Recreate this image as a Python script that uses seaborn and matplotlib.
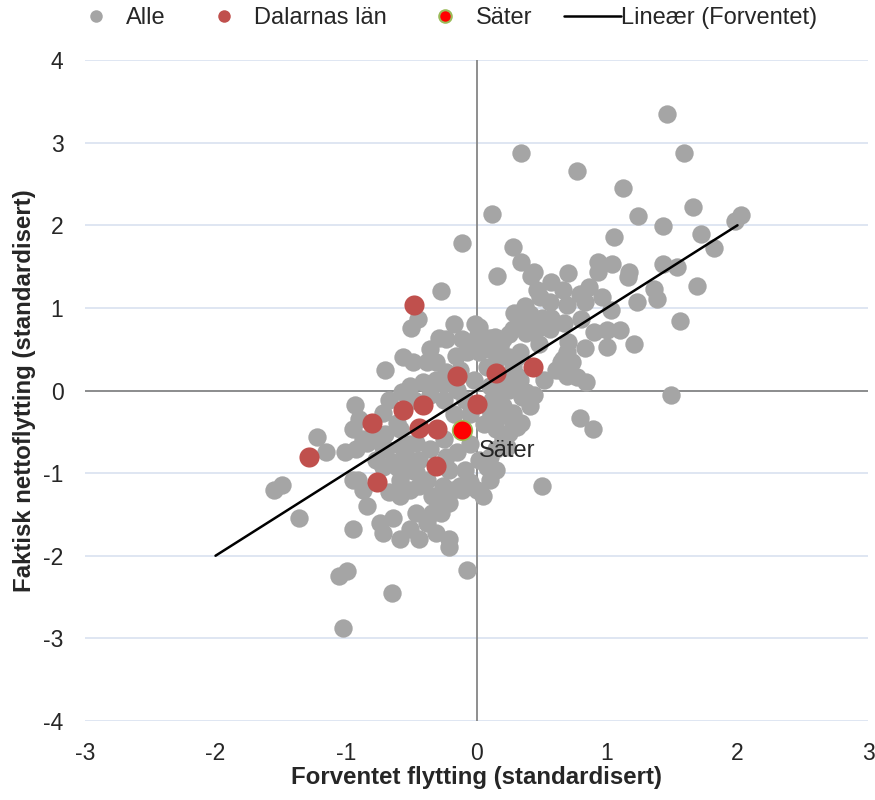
import matplotlib
matplotlib.use("Agg")
import matplotlib.pyplot as plt
import seaborn as sns
import pandas as pd
from matplotlib.lines import Line2D
from matplotlib.legend_handler import HandlerLine2D

# ---- data (standardised values) ----
alle_x = [1.46, 0.34, 1.59, 0.77, 1.12, 1.66, 0.12, 1.24, 2.03, 1.98, 1.43, 1.05, 1.72, 1.82, 0.28, -0.11,
          0.34, 0.44, 0.42, 0.16, 0.70, 0.93, 0.93, 1.04, 1.17, 1.16, 1.43, 1.54, 1.69, 1.36, 1.38, 1.23,
          1.56, 0.57, 0.49, 0.86, 0.79, 0.96, 0.69, 0.83, 1.03, 0.37, 0.29, 0.41, 0.50, 0.57, 0.67, 0.80,
          0.14, 0.25, 0.18, 0.38, 0.46, 0.90, 1.00, 1.10, 0.70, 0.69, 0.83, 1.00, 1.21, 0.02, 0.02, 0.25,
          0.31, 0.65, 0.73, 0.64, 0.69, 0.77, 0.84, 0.19, 0.35, 1.49, 0.10, 0.18, 0.28, 0.34, 0.79, 0.89,
          0.56, 0.46, 0.66, 0.38, -0.27, -0.45, -0.50, -0.29, -0.01, -0.11, 0.00, -0.05, 0.10, 0.20, 0.28,
          0.34, -0.70, -0.56, -0.49, -0.38, -0.31, -0.16, -0.07, 0.02, 0.10, 0.18, 0.33, -0.51, -0.41,
          -0.31, -0.23, -0.57, -0.26, -0.15, 0.08, 0.28, 0.33, 0.38, -0.67, -0.72, -0.61, 0.10, 0.20, 0.31,
          0.41, 0.31, 0.25, 0.10, 0.15, 0.20, 0.61, 0.66, -0.93, -0.95, -0.87, -0.92, -0.95, -0.87, -0.84,
          -0.95, -0.74, -0.64, -0.72, -0.59, -0.51, -0.46, -0.38, -0.34, -0.31, -0.44, -0.21, -0.28, -0.21,
          -0.18, -0.11, 0.00, 0.05, 0.10, 0.15, 0.08, 0.10, 0.15, 0.23, 0.28, 0.20, 0.12, 0.25, 0.50, -0.21,
          -0.72, -0.64, -0.54, -0.59, -0.51, -0.59, -0.46, -0.44, -0.38, -0.34, -1.22, -1.15, -1.01, -0.80,
          -0.84, -1.55, -1.49, -1.36, -0.91, -0.07, -1.05, -0.99, -0.65, -1.02, -0.67, -0.41, -0.26, -0.13,
          -0.05, -0.72, -0.61, -0.51, -0.44, -0.36, -0.23, -0.15, -0.69, -0.57, -0.46, -0.77, -0.27, -0.05,
          0.06, -0.17, -0.25, -0.09, -0.02, -0.13, -0.36, -0.25, -0.05, 0.02, -0.09, -0.21, -0.59, -0.70,
          -0.51, -0.48, -0.90, 0.16, 0.48, 0.56, 0.52, 0.44, -0.17, -0.23, -0.36]
alle_y = [3.35, 2.88, 2.88, 2.66, 2.45, 2.22, 2.14, 2.11, 2.13, 2.05, 1.99, 1.86, 1.90, 1.72, 1.74, 1.79,
          1.55, 1.44, 1.38, 1.38, 1.42, 1.55, 1.43, 1.53, 1.44, 1.37, 1.53, 1.49, 1.26, 1.23, 1.11, 1.07,
          0.84, 1.31, 1.13, 1.25, 1.17, 1.13, 1.04, 1.07, 0.98, 1.02, 0.94, 0.92, 0.88, 0.88, 0.82, 0.86,
          0.65, 0.68, 0.53, 0.70, 0.74, 0.71, 0.73, 0.73, 0.59, 0.47, 0.52, 0.53, 0.56, 0.77, 0.62, 0.40,
          0.41, 0.35, 0.35, 0.25, 0.17, 0.16, 0.10, -0.05, -0.08, -0.06, -0.23, -0.31, -0.39, -0.39, -0.33,
          -0.47, 1.07, 1.22, 1.22, 0.77, 1.20, 0.86, 0.76, 0.64, 0.81, 0.62, 0.65, 0.53, 0.64, 0.62, 0.74,
          0.86, 0.25, 0.41, 0.34, 0.34, 0.35, 0.42, 0.46, 0.46, 0.50, 0.56, 0.46, 0.05, 0.10,
          0.13, 0.22, -0.02, 0.08, 0.01, 0.29, 0.29, 0.13, -0.02, -0.11, -0.27, -0.39, 0.05, 0.13, 0.17,
          -0.19, -0.44, -0.51, -0.35, -0.47, -0.59, 0.25, 0.38, -0.17, -0.47, -0.59, -0.71, -1.08, -1.20,
          -1.40, -1.68, -1.60, -1.54, -1.72, -1.80, -1.68, -1.48, -1.60, -1.48, -1.72, -1.80, -1.80, -1.32,
          -1.36, -1.20, -1.20, -1.20, -1.28, -1.08, -0.96, -0.92, -0.80, -0.71, -0.68, -0.27, -0.19, -0.11,
          0.01, -1.16, -1.89, -0.68, -0.87, -0.80, -1.08, -1.20, -1.28, -0.99, -1.16, -1.08, -1.28, -0.56,
          -0.75, -0.75, -0.56, -0.63, -1.20, -1.14, -1.54, -1.08, -2.17, -2.25, -2.19, -2.45, -2.88, -1.23,
          -1.11, -1.16, -1.16, -1.11, -0.92, -0.92, -0.96, -0.84, -0.71, -0.80, -0.75, -0.71, -0.68, -0.63,
          -0.84, -1.48, -0.29, -0.41, -0.29, -0.11, -0.11, 0.13, 0.25, -0.05, -0.59, -0.65, -0.84, -0.96,
          -0.96, -0.47, -0.53, -0.65, -0.11, -0.35, 0.38, 0.56, 0.74, 0.13, -0.05, 0.80, 0.62, 0.50]

dalarna_x = [-0.48, -0.15, 0.15, 0.43, 0.00, -0.41, -0.56, -0.44, -0.30, -0.80, -1.28, -0.31, -0.76]
dalarna_y = [1.03, 0.17, 0.21, 0.28, -0.16, -0.18, -0.23, -0.45, -0.47, -0.39, -0.80, -0.91, -1.11]

sater_x = [-0.11]
sater_y = [-0.48]

line_x = [-2, 2]
line_y = [-2, 2]

x_ticks = [-3, -2, -1, 0, 1, 2, 3]
y_ticks = [-4, -3, -2, -1, 0, 1, 2, 3, 4]

legend_labels = ["Alle", "Dalarnas län", "Säter", "Lineær (Forventet)"]
x_label = "Forventet flytting (standardisert)"
y_label = "Faktisk nettoflytting (standardisert)"

GRAY = "#A5A5A5"
RED = "#C0504D"
SATER_FACE = "#FF0000"
SATER_EDGE = "#9BBB59"
FS = 16.5
FS_LEG = 17.0
FS_LAB = 17.3

sns.set_style("white")
plt.rcParams["font.family"] = ["Liberation Sans", "DejaVu Sans"]

fig = plt.figure(figsize=(8.75, 8.0), dpi=100)
ax = fig.add_axes([85 / 875, 1 - 721 / 800, (868 - 85) / 875, (721 - 60) / 800])

# grid and zero axes
for yv in y_ticks:
    ax.axhline(yv, color="#D9E2F0", lw=1.2, zorder=0)
ax.axhline(0, color="#868686", lw=1.3, zorder=1)
ax.axvline(0, color="#868686", lw=1.3, zorder=1)

df_alle = pd.DataFrame({"x": alle_x, "y": alle_y})
df_dal = pd.DataFrame({"x": dalarna_x, "y": dalarna_y})
df_sat = pd.DataFrame({"x": sater_x, "y": sater_y})
df_line = pd.DataFrame({"x": line_x, "y": line_y})

sns.scatterplot(data=df_alle, x="x", y="y", ax=ax, color=GRAY, s=175, linewidth=0, zorder=2, legend=False)
sns.scatterplot(data=df_dal, x="x", y="y", ax=ax, color=RED, s=210, linewidth=0, zorder=3, legend=False)
sns.scatterplot(data=df_sat, x="x", y="y", ax=ax, color=SATER_FACE, s=200, edgecolor=SATER_EDGE,
                linewidth=1.2, zorder=4, legend=False)
sns.lineplot(data=df_line, x="x", y="y", ax=ax, color="black", lw=1.8, zorder=5, legend=False)

ax.text(sater_x[0] + 0.13, sater_y[0] - 0.25, "Säter", fontsize=FS_LEG, ha="left", va="center", zorder=6)

ax.set_xlim(-3, 3)
ax.set_ylim(-4, 4)
ax.set_xticks(x_ticks)
ax.set_yticks(y_ticks)
ax.set_xticklabels([str(t) for t in x_ticks], fontsize=FS)
ax.set_yticklabels([str(t) for t in y_ticks], fontsize=FS)
ax.tick_params(axis="y", length=0, pad=15.5)
ax.tick_params(axis="x", length=0, pad=15)
for sp in ax.spines.values():
    sp.set_visible(False)

ax.set_xlabel(x_label, fontsize=FS_LAB, fontweight="bold", labelpad=1)
ax.set_ylabel(y_label, fontsize=FS_LAB, fontweight="bold", labelpad=5)


class LongLineHandler(HandlerLine2D):
    def create_artists(self, legend, orig_handle, xdescent, ydescent, width, height, fontsize, trans):
        y = height / 2.0 - ydescent
        ln = Line2D([-xdescent - 0.05 * width, -xdescent + 1.15 * width], [y, y],
                    color=orig_handle.get_color(), lw=orig_handle.get_linewidth())
        ln.set_transform(trans)
        return [ln]


handles = [
    Line2D([0], [0], marker="o", color="none", markerfacecolor=GRAY, markeredgewidth=0, markersize=9),
    Line2D([0], [0], marker="o", color="none", markerfacecolor=RED, markeredgewidth=0, markersize=9),
    Line2D([0], [0], marker="o", color="none", markerfacecolor=SATER_FACE, markeredgecolor=SATER_EDGE,
           markeredgewidth=1.5, markersize=9),
    Line2D([0], [0], color="black", lw=1.8),
]
fig.legend(handles, legend_labels, loc="center left", bbox_to_anchor=(72 / 875, 1 - 18 / 800), ncol=4,
           frameon=False, fontsize=FS_LEG, handlelength=2.0, columnspacing=1.45, handletextpad=0.3,
           borderpad=0, borderaxespad=0, handler_map={handles[3]: LongLineHandler()})

fig.savefig("out.png", dpi=100)
